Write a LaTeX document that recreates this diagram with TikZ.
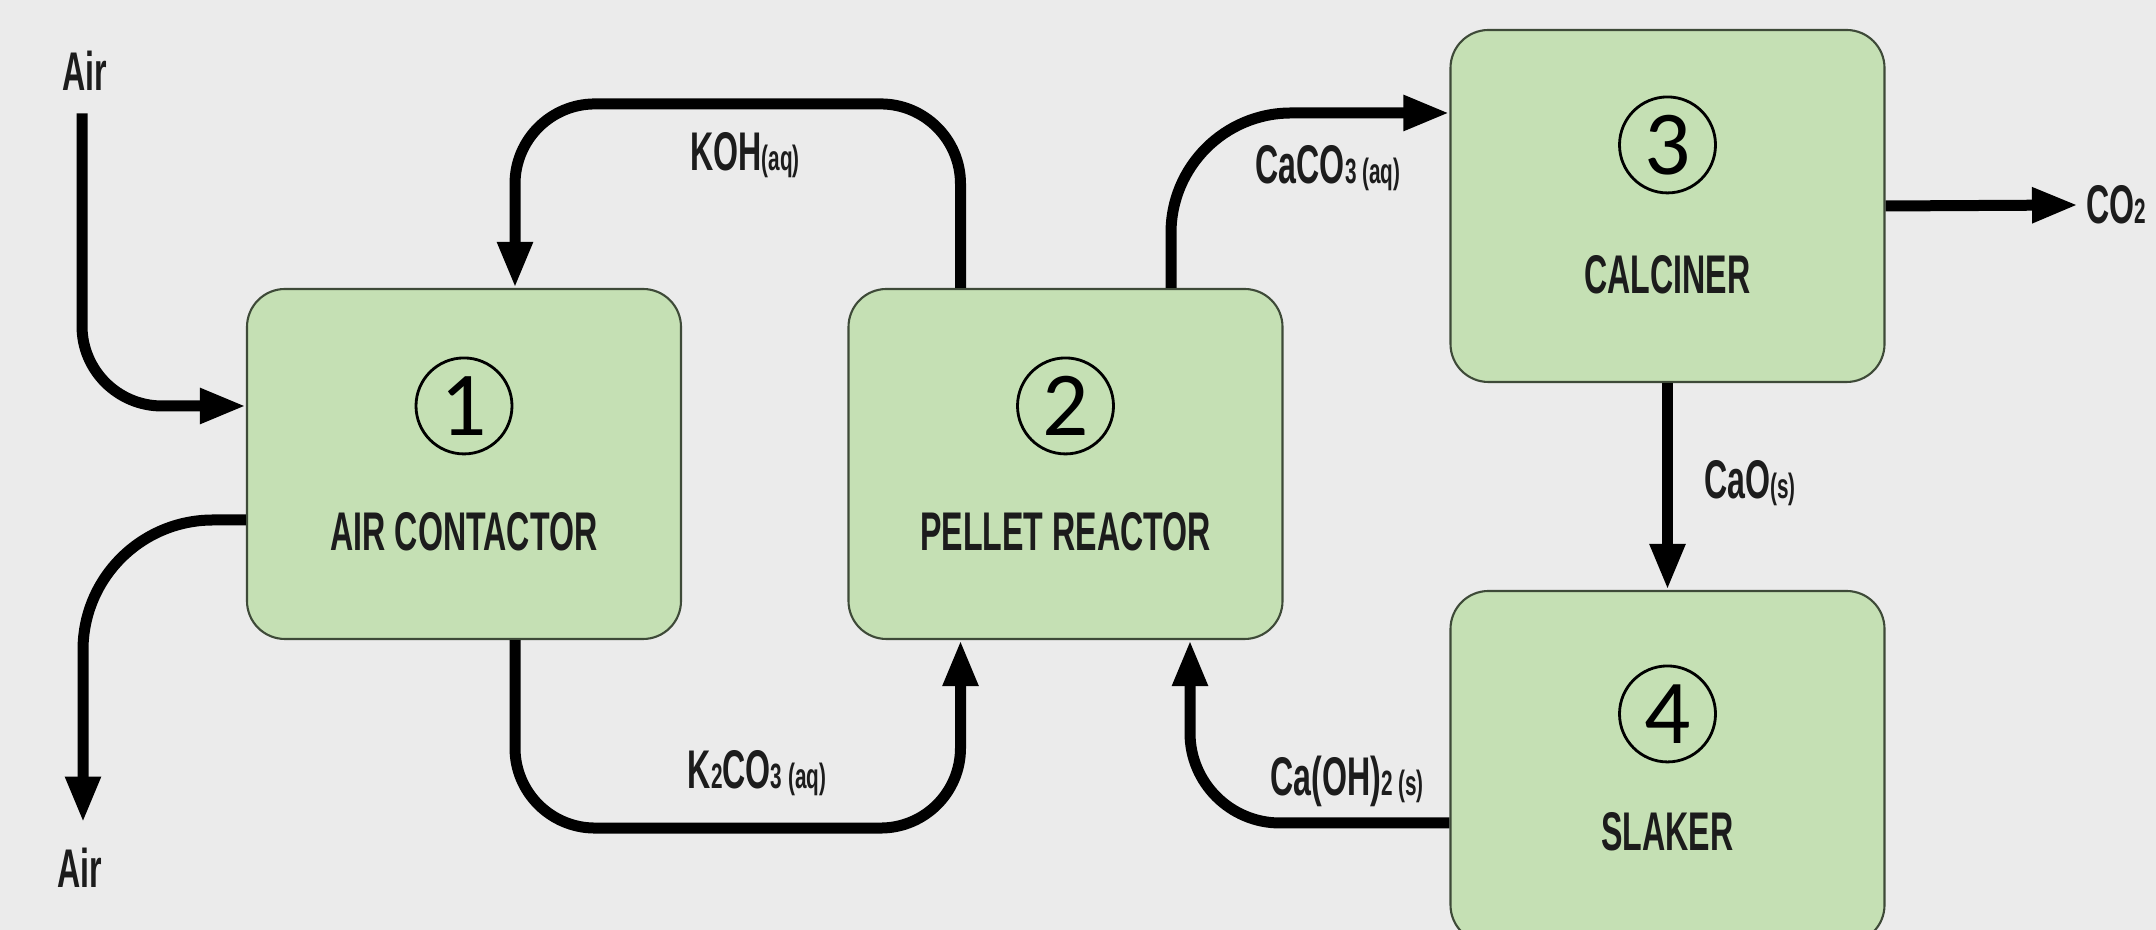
\documentclass[tikz,border=0pt]{standalone}
\usepackage{fontspec}
\usepackage{tikz}
\usetikzlibrary{calc,arrows.meta,positioning}
\newfontfamily\labelfont{Liberation Sans}[FakeStretch=0.59]
\newfontfamily\numfont{Carlito}
\definecolor{bgcol}{HTML}{EBEBEB}
\definecolor{unitfill}{HTML}{C5E0B4}
\definecolor{unitline}{HTML}{3E4A38}
\definecolor{txt}{HTML}{1C1C1C}
\newcommand{\chemsub}[1]{{\fontsize{10}{10}\selectfont #1}}

\begin{document}
\begin{tikzpicture}[
  unit/.style={draw=unitline, line width=0.6pt, fill=unitfill, rounded corners=0.38cm,
    minimum width=4.34cm, minimum height=3.5cm},
  flow/.style={line width=0.11cm, -{Triangle[length=0.46cm,width=0.33cm]}},
  tag/.style={text=txt, font=\labelfont\bfseries\fontsize{15.5}{16}\selectfont, inner sep=0.08cm},
  numcirc/.style={circle, draw, line width=0.8pt, minimum size=0.96cm, inner sep=0pt,
    font=\numfont\fontsize{26}{26}\selectfont}
]
\useasboundingbox (0,0) rectangle (21.56,9.30);
\fill[bgcol] (0,0) rectangle (21.56,9.30);
\clip (0,0) rectangle (21.56,9.30);

\node[unit] (b1) at (4.64,4.66) {};
\node[unit] (b2) at (10.655,4.66) {};
\node[unit, minimum height=3.52cm] (b3) at (16.675,7.24) {};
\node[unit, minimum height=3.52cm] (b4) at (16.675,1.63) {};

\node[numcirc] (n1) at ([yshift=-1.18cm]b1.north) {1};
\node[numcirc] (n2) at ([yshift=-1.18cm]b2.north) {2};
\node[numcirc] (n3) at ([yshift=-1.16cm]b3.north) {3};
\node[numcirc] (n4) at ([yshift=-1.24cm]b4.north) {4};
\node[tag] (t1) at ([yshift=-2.44cm]b1.north) {AIR CONTACTOR};
\node[tag] (t2) at ([yshift=-2.44cm]b2.north) {PELLET REACTOR};
\node[tag] (t3) at ([yshift=-2.46cm]b3.north) {CALCINER};
\node[tag] (t4) at ([yshift=-2.42cm]b4.north) {SLAKER};

\node[tag] (airin) at (0.85,8.59) {Air};
\node[tag] (airout) at (0.80,0.62) {Air};
\node[tag] (koh) at (7.45,7.75) {KOH\chemsub{(aq)}};
\node[tag] (k2co3) at (7.57,1.57) {K\chemsub{2}CO\chemsub{3 (aq)}};
\node[tag] (caco3) at (13.28,7.62) {CaCO\chemsub{3 (aq)}};
\node[tag] (cao) at (17.50,4.47) {CaO\chemsub{(s)}};
\node[tag] (caoh2) at (13.47,1.49) {Ca(OH)\chemsub{2 (s)}};
\node[tag, anchor=west] (co2) at (20.78,7.25) {CO\chemsub{2}};

\draw[flow, rounded corners=0.8cm] ([xshift=-0.03cm,yshift=-0.14cm]airin.south) |- ([yshift=0.58cm]b1.west);
\draw[flow, rounded corners=1.3cm] ([yshift=-0.56cm]b1.west) -| ([xshift=0.03cm,yshift=0.17cm]airout.north);
\draw[flow, rounded corners=0.8cm] ([xshift=-1.05cm]b2.north) -- ++(0,1.84) -| ([xshift=0.51cm]b1.north);
\draw[flow, rounded corners=0.8cm] ([xshift=0.51cm]b1.south) -- ++(0,-1.88) -| ([xshift=-1.05cm]b2.south);
\draw[flow, rounded corners=1.2cm] ([xshift=1.055cm]b2.north) |- ([yshift=0.93cm]b3.west);
\draw[flow] (b3.east) -- (co2.west);
\draw[flow] (b3.south) -- (b4.north);
\draw[flow, rounded corners=0.9cm] ([yshift=-0.56cm]b4.west) -| ([xshift=1.245cm]b2.south);
\end{tikzpicture}
\end{document}
